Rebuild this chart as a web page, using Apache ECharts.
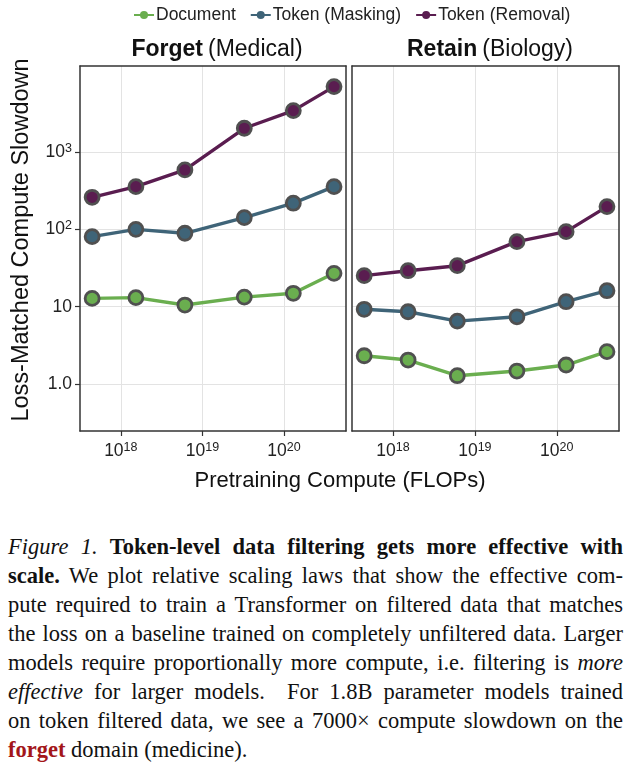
<!DOCTYPE html>
<html>
<head>
<meta charset="utf-8">
<script src="https://cdn.jsdelivr.net/npm/echarts@6/dist/echarts.min.js"></script>
<style>
  html, body { margin: 0; padding: 0; background: #fff; }
  #chart { width: 631px; height: 505px; }
  #caption {
    position: absolute; left: 8px; top: 532px; width: 615px;
    font-family: "Liberation Serif", "Times New Roman", serif;
    font-size: 22.5px; line-height: 29px; color: #111;
  }
  #caption .ln { text-align: justify; text-align-last: justify; white-space: nowrap; }
  #caption .last { text-align: left; text-align-last: left; }
  #caption .fg { font-weight: bold; color: #a3161a; }
</style>
</head>
<body>
<div id="chart"></div>
<div id="caption">
  <div class="ln"><i>Figure 1.</i> <b>Token-level data filtering gets more effective with</b></div>
  <div class="ln"><b>scale.</b> We plot relative scaling laws that show the effective com-</div>
  <div class="ln">pute required to train a Transformer on filtered data that matches</div>
  <div class="ln">the loss on a baseline trained on completely unfiltered data. Larger</div>
  <div class="ln">models require proportionally more compute, i.e. filtering is <i>more</i></div>
  <div class="ln"><i>effective</i> for larger models.&nbsp; For 1.8B parameter models trained</div>
  <div class="ln">on token filtered data, we see a 7000&times; compute slowdown on the</div>
  <div class="ln last"><span class="fg">forget</span> domain (medicine).</div>
</div>
<script>
// Pretraining compute (FLOPs) for the six model sizes
const computeFLOPs = [4.45e17, 1.53e18, 6.1e18, 3.26e19, 1.3e20, 4.1e20];

// Forget (Medical)
const forgetDocument = [12.8, 13.1, 10.5, 13.3, 14.9, 27];
const forgetMasking  = [80.5, 100, 89, 142, 218, 357];
const forgetRemoval  = [260, 357, 587, 2030, 3435, 7020];

// Retain (Biology)
const retainDocument = [2.32, 2.04, 1.28, 1.47, 1.76, 2.62];
const retainMasking  = [9.25, 8.6, 6.5, 7.4, 11.6, 16.1];
const retainRemoval  = [25.2, 29.2, 33.9, 69.3, 93.4, 197];

const seriesNames = ['Document', 'Token (Masking)', 'Token (Removal)'];
const panelTitles = [['Forget', '(Medical)'], ['Retain', '(Biology)']];
const xTickValues = [1e18, 1e19, 1e20];
const yTickValues = [1, 10, 100, 1000];

const colors = ['#6aae4f', '#3f6478', '#5a1d50'];

function pairs(xs, ys) { return xs.map((x, i) => [x, ys[i]]); }

function expLabel(v) {
  const e = Math.round(Math.log10(v));
  return '{b|10}{s|' + e + '}';
}
function yLabel(v) {
  const e = Math.round(Math.log10(v));
  if (e === 0) return '{b|1.0}';
  if (e === 1) return '{b|10}';
  return '{b|10}{s|' + e + '}';
}
const FF = 'Liberation Sans, Arial, sans-serif';
const richLab = {
  b: { fontSize: 17.5, fontFamily: FF, color: '#222', lineHeight: 20 },
  s: { fontSize: 12.5, fontFamily: FF, color: '#222', verticalAlign: 'top', lineHeight: 12 }
};

const chart = echarts.init(document.getElementById('chart'), null, { renderer: 'canvas' });

const grids = [
  { left: 80, top: 66, width: 266, height: 365 },
  { left: 352, top: 66, width: 267, height: 365 }
];

const gridLine = { show: true, lineStyle: { color: '#e3e3e3', width: 1 } };
const frameLine = { show: true, onZero: false, lineStyle: { color: '#333', width: 1.5 } };

const xAxes = [0, 1].map(i => ({
  type: 'log', gridIndex: i, min: 3.16e17, max: 5.75e20,
  axisLine: frameLine,
  axisTick: { show: true, length: 5, lineStyle: { color: '#333', width: 1.2 }, customValues: xTickValues },
  axisLabel: { customValues: xTickValues, formatter: expLabel, rich: richLab, margin: 10 },
  splitLine: gridLine
}));
[0, 1].forEach(i => xAxes.push({
  type: 'log', gridIndex: i, position: 'top', min: 3.16e17, max: 5.75e20,
  axisLine: frameLine,
  axisTick: { show: false }, axisLabel: { show: false }, splitLine: { show: false }
}));

const yAxes = [0, 1].map(i => ({
  type: 'log', gridIndex: i, min: 0.2466, max: 12970,
  axisLine: frameLine,
  axisTick: { show: i === 0, length: 5, lineStyle: { color: '#333', width: 1.2 }, customValues: yTickValues },
  axisLabel: { show: i === 0, customValues: yTickValues, formatter: yLabel, rich: richLab, margin: 8 },
  splitLine: gridLine
}));
[0, 1].forEach(i => yAxes.push({
  type: 'log', gridIndex: i, position: 'right', min: 0.2466, max: 12970,
  axisLine: frameLine,
  axisTick: { show: false }, axisLabel: { show: false }, splitLine: { show: false }
}));

const panelData = [
  [forgetDocument, forgetMasking, forgetRemoval],
  [retainDocument, retainMasking, retainRemoval]
];

const series = [];
panelData.forEach((sets, gi) => {
  sets.forEach((vals, si) => {
    series.push({
      type: 'line', name: seriesNames[si],
      xAxisIndex: gi, yAxisIndex: gi,
      data: pairs(computeFLOPs, vals),
      symbol: 'circle', symbolSize: 14,
      lineStyle: { color: colors[si], width: 3.4 },
      itemStyle: { color: colors[si], borderColor: '#505050', borderWidth: 2.8 },
      emphasis: { disabled: true },
      z: 2 + si
    });
  });
});

const option = {
  animation: false,
  backgroundColor: '#fff',
  color: colors,
  grid: grids,
  legend: {
    top: 1, left: 128, itemGap: 14, itemWidth: 20, itemHeight: 10,
    data: seriesNames,
    itemStyle: { borderWidth: 0 },
    textStyle: { fontSize: 17.5, fontFamily: FF, color: '#222', padding: [0, 0, 0, -3] }
  },
  title: panelTitles.map((t, i) => ({
    text: '{b|' + t[0] + '} {n|' + t[1] + '}',
    left: [212, 485][i], top: 33, textAlign: 'center',
    textStyle: {
      fontWeight: 'normal',
      rich: {
        b: { fontSize: 23, fontWeight: 'bold', fontFamily: FF, color: '#111' },
        n: { fontSize: 23, fontWeight: 'normal', fontFamily: FF, color: '#111' }
      }
    }
  })),
  xAxis: xAxes,
  yAxis: yAxes,
  graphic: [
    { type: 'text', x: 340, y: 481, style: { text: 'Pretraining Compute (FLOPs)', font: '22px "Liberation Sans", Arial, sans-serif', fill: '#111', align: 'center', verticalAlign: 'middle' } },
    { type: 'text', x: 22, y: 240, rotation: Math.PI / 2, style: { text: 'Loss-Matched Compute Slowdown', font: '23.5px "Liberation Sans", Arial, sans-serif', fill: '#111', align: 'center', verticalAlign: 'middle' } }
  ],
  series: series
};
chart.setOption(option);
</script>
</body>
</html>
